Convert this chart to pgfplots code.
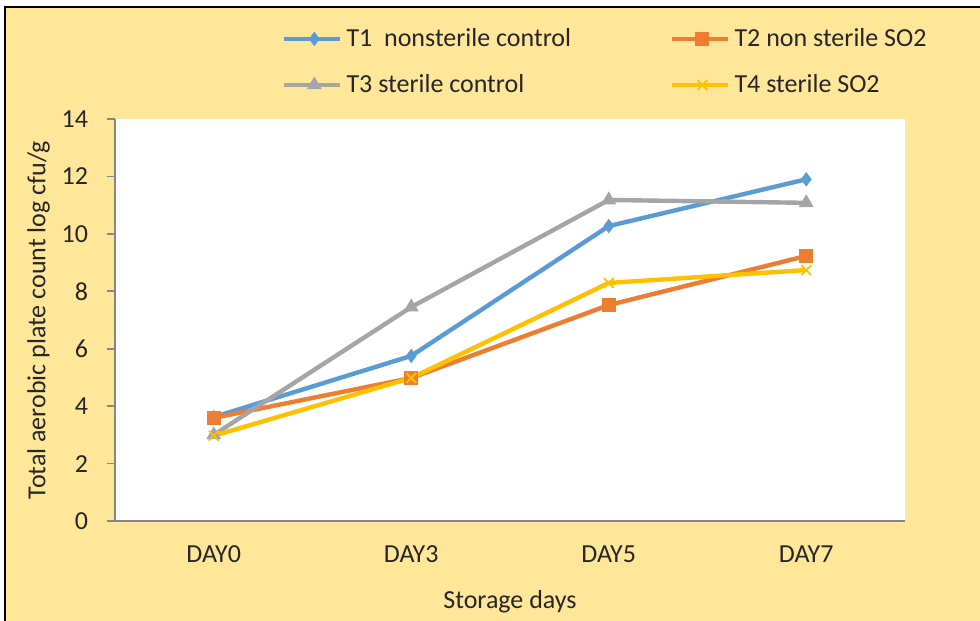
\documentclass[border=0pt]{standalone}
\usepackage{pgfplots}
\pgfplotsset{compat=1.18}
\usepackage{fontspec}
\setmainfont{Carlito}
\definecolor{cblue}{RGB}{91,155,213}
\definecolor{corange}{RGB}{237,125,49}
\definecolor{cgray}{RGB}{165,165,165}
\definecolor{cyellow}{RGB}{255,192,0}
\definecolor{bgyellow}{RGB}{255,230,153}
\definecolor{axgray}{RGB}{134,134,134}
\begin{document}
\begin{tikzpicture}
\fill[white] (-57.5pt,-50pt) rectangle (432.5pt,260.5pt);
\useasboundingbox (-57.5pt,-50pt) rectangle (432.5pt,260.5pt);
\fill[bgyellow] (-55pt,-50pt) rectangle (432.5pt,257pt);
\draw[black,line width=0.8pt] (-55pt,-50pt) -- (-55pt,257pt) -- (432.5pt,257pt);
\begin{axis}[
  at={(0,0)}, anchor=south west,
  scale only axis, width=395pt, height=201pt,
  axis background/.style={fill=white},
  xmin=-0.5, xmax=3.5, ymin=0, ymax=14,
  xtick={0,1,2,3}, xticklabels={DAY0,DAY3,DAY5,DAY7},
  minor xtick={-0.5,0.5,1.5,2.5,3.5},
  ytick={0,2,...,14},
  axis x line*=bottom, axis y line*=left,
  axis line style={axgray, line width=0.8pt, -},
  tick align=outside,
  major tick style={axgray, line width=0.8pt},
  minor tick style={axgray, line width=0.8pt},
  xtick style={draw=none},
  major tick length=4pt, minor tick length=4pt,
  /pgf/number format/assume math mode=true,
  tick label style={font=\fontsize{13}{15}\selectfont, text=black!85},
  xticklabel style={yshift=-5pt},
  yticklabel style={xshift=-6pt},
  label style={font=\fontsize{13}{15}\selectfont, text=black!85},
  xlabel={Storage days},
  ylabel={Total aerobic plate count log cfu/g},
  xlabel style={yshift=-7pt},
  ylabel style={yshift=-1pt},
  legend columns=2,
  legend style={draw=none, fill=none, at={(axis description cs:0.622,1.142)}, anchor=center,
    font=\fontsize{13}{15}\selectfont, text=black!85,
    /tikz/every even column/.append style={column sep=47.5pt},
    row sep=8.5pt},
  legend cell align=left,
  legend image code/.code={
    \draw[mark repeat=2,mark phase=2,#1] plot coordinates {(0pt,0pt) (15pt,0pt) (28pt,0pt)};
  },
  every axis plot/.append style={line width=2.2pt},
]
\addplot[color=cblue, mark=diamond*, mark size=3.2pt, mark options={solid, fill=cblue, line width=0.5pt}]
  coordinates {(0,3.62) (1,5.75) (2,10.27) (3,11.9)};
\addlegendentry{T1\ \ nonsterile control}
\addplot[color=corange, mark=square*, mark size=3.2pt, mark options={solid, fill=corange, line width=0.5pt}]
  coordinates {(0,3.59) (1,4.98) (2,7.52) (3,9.23)};
\addlegendentry{T2 non sterile SO2}
\addplot[color=cgray, mark=triangle*, mark size=3.8pt, mark options={solid, fill=cgray, line width=0.5pt}]
  coordinates {(0,3.0) (1,7.45) (2,11.18) (3,11.08)};
\addlegendentry{T3 sterile control}
\addplot[color=cyellow, mark=x, mark size=3.5pt, mark options={solid, line width=0.9pt}]
  coordinates {(0,2.97) (1,4.98) (2,8.29) (3,8.74)};
\addlegendentry{T4 sterile SO2}
\end{axis}
\end{tikzpicture}
\end{document}
